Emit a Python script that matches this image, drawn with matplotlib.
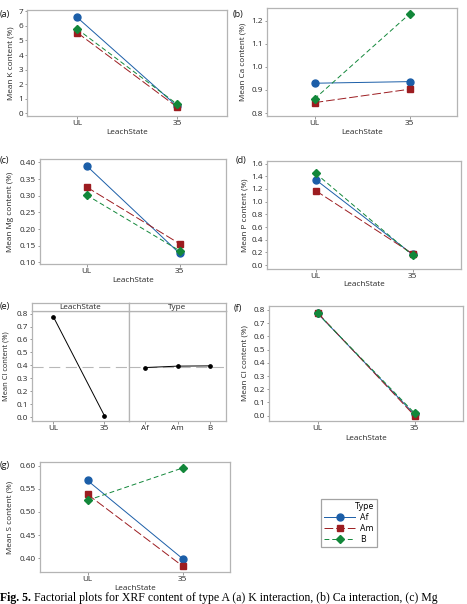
import numpy as np
import matplotlib
matplotlib.use("Agg")
import matplotlib.pyplot as plt
from matplotlib.lines import Line2D

# ================================================================================
# data
levels = ["UL", "35"]
types = ["Af", "Am", "B"]

k_af = [6.60, 0.48]
k_am = [5.55, 0.42]
k_b = [5.80, 0.62]

ca_af = [0.929, 0.936]
ca_am = [0.845, 0.903]
ca_b = [0.861, 1.229]

mg_af = [0.390, 0.127]
mg_am = [0.326, 0.156]
mg_b = [0.302, 0.135]

p_af = [1.348, 0.17]
p_am = [1.175, 0.18]
p_b = [1.448, 0.157]

cl_leach_main = [0.774, 0.010]
cl_type_main = [0.383, 0.394, 0.396]
cl_grand_mean = 0.391

cl_af = [0.775, 0.010]
cl_am = [0.780, 0.000]
cl_b = [0.775, 0.020]

s_af = [0.568, 0.399]
s_am = [0.538, 0.383]
s_b = [0.525, 0.595]

# ================================================================================
W, H = 467, 604
plt.rcParams["font.family"] = ["Open Sans", "DejaVu Sans"]
FS = 5.9
TXT = "#262626"
SPINE = "#b4b4b4"

c_af, c_am, c_b = "#1b5ea8", "#9c1c20", "#12873a"
sty = {
    "Af": dict(color=c_af, ls="-", marker="o", ms=5.0, lw=0.7),
    "Am": dict(color=c_am, ls=(0, (9, 3)), marker="s", ms=4.4, lw=0.7),
    "B": dict(color=c_b, ls=(0, (5, 3)), marker="D", ms=4.2, lw=0.7),
}

fig = plt.figure(figsize=(W / 100, H / 100), dpi=100)


def rect(x0, y0, x1, y1):
    return [x0 / W, 1 - y1 / H, (x1 - x0) / W, (y1 - y0) / H]


def style_ax(ax, yt, fmt):
    for s in ax.spines.values():
        s.set_color(SPINE)
        s.set_linewidth(0.9)
    ax.tick_params(length=1.8, width=0.6, color="#888888", labelsize=FS,
                   labelcolor=TXT, pad=1.0)
    ax.set_yticks(yt)
    ax.set_yticklabels([fmt.format(v) for v in yt])


def label_at(ax, box, ylab_x, xlab_y, ylabel, xlabel="LeachState"):
    x0, y0, x1, y1 = box
    ax.set_ylabel(ylabel, fontsize=FS, color=TXT, va="center")
    ax.yaxis.set_label_coords((ylab_x - x0) / (x1 - x0), 0.5)
    if xlabel:
        ax.set_xlabel(xlabel, fontsize=FS, color=TXT, va="center")
        ax.xaxis.set_label_coords(0.5, (y1 - xlab_y) / (y1 - y0))


def interaction(box, series, ylim, yt, fmt, ylabel, ylab_x, xlab_y):
    ax = fig.add_axes(rect(*box))
    x = np.arange(len(levels))
    for name, vals in zip(types, series):
        ax.plot(x, vals, **sty[name])
    ax.set_xlim(-0.5, 1.5)
    ax.set_ylim(*ylim)
    ax.set_xticks(x)
    ax.set_xticklabels(levels)
    style_ax(ax, yt, fmt)
    label_at(ax, box, ylab_x, xlab_y, ylabel)
    return ax


# (a) K
interaction((27, 10, 227, 116), [k_af, k_am, k_b], (-0.2, 7.1),
            range(0, 8), "{:d}", "Mean K content (%)", 11, 132)
# (b) Ca
interaction((267, 8, 457, 116), [ca_af, ca_am, ca_b], (0.787, 1.255),
            [0.8, 0.9, 1.0, 1.1, 1.2], "{:.1f}", "Mean Ca content (%)", 243, 132)
# (c) Mg
interaction((40, 159, 226, 264), [mg_af, mg_am, mg_b], (0.095, 0.41),
            [0.10, 0.15, 0.20, 0.25, 0.30, 0.35, 0.40], "{:.2f}",
            "Mean Mg content (%)", 11, 280)
# (d) P
interaction((267, 161, 461, 269), [p_af, p_am, p_b], (-0.06, 1.64),
            np.arange(0, 1.61, 0.2), "{:.1f}", "Mean P content (%)", 245, 284)
# (f) Cl interaction
interaction((269, 306, 463, 421), [cl_af, cl_am, cl_b], (-0.04, 0.83),
            np.arange(0, 0.81, 0.1), "{:.1f}", "Mean Cl content (%)", 245, 439)
# (g) S
ax_g = interaction((40, 462, 230, 572), [s_af, s_am, s_b], (0.37, 0.608),
                   [0.40, 0.45, 0.50, 0.55, 0.60], "{:.2f}",
                   "Mean S content (%)", 10, 588)

# (e) main effects plot for Cl
cl_ylim = (-0.03, 0.82)
cl_yt = np.arange(0, 0.81, 0.1)
box_e1 = (32, 311, 129, 421)
box_e2 = (129, 311, 226, 421)
e1 = fig.add_axes(rect(*box_e1))
e2 = fig.add_axes(rect(*box_e2), sharey=e1)
e1.plot(np.arange(2), cl_leach_main, color="black", lw=0.7, marker="o", ms=2.4)
e2.plot(np.arange(3), cl_type_main, color="black", lw=0.7, marker="o", ms=2.4)
for ax in (e1, e2):
    ax.axhline(cl_grand_mean, color="#b8b8b8", lw=0.8, ls=(0, (10, 5)), zorder=0)
    ax.set_ylim(*cl_ylim)
style_ax(e1, cl_yt, "{:.1f}")
style_ax(e2, cl_yt, "{:.1f}")
e1.set_xlim(-0.42, 1.48)
e1.set_xticks(range(2))
e1.set_xticklabels(levels)
e2.set_xlim(-0.5, 2.5)
e2.set_xticks(range(3))
e2.set_xticklabels(types)
e2.tick_params(axis="y", left=False, labelleft=False)
e1.set_ylabel("Mean Cl content (%)", fontsize=FS - 0.5, color=TXT, va="center")
e1.yaxis.set_label_coords((6 - 32) / 97, 0.5)
for box, name in [((32, 303, 129, 311), "LeachState"), ((129, 303, 226, 311), "Type")]:
    hx = fig.add_axes(rect(*box))
    hx.set_xticks([])
    hx.set_yticks([])
    for s in hx.spines.values():
        s.set_color(SPINE)
        s.set_linewidth(0.9)
    hx.text(0.5, 0.45, name, ha="center", va="center", fontsize=FS, color=TXT,
            transform=hx.transAxes)

# panel letters
for lab, x, y in [("(a)", 0, 14), ("(b)", 233, 14), ("(c)", 0, 161), ("(d)", 236, 161),
                  ("(e)", 0, 306), ("(f)", 234, 308), ("(g)", 0, 465)]:
    fig.text(x / W, 1 - y / H, lab, fontsize=FS + 0.6, color="#111111",
             ha="left", va="center")

# legend
handles = [Line2D([0], [0], **sty[t]) for t in types]
leg = fig.legend(handles, types, title="Type", loc="upper left",
                 bbox_to_anchor=(317 / W, 1 - 495 / H), fontsize=FS + 0.3,
                 title_fontsize=FS + 0.3, frameon=True, fancybox=False,
                 edgecolor="#8c8c8c", handlelength=3.6, borderpad=0.35,
                 labelspacing=0.22, handletextpad=0.6, alignment="right")
leg.get_frame().set_linewidth(0.9)

# caption
renderer = fig.canvas.get_renderer()
cap_y = 1 - 601 / H
t1 = fig.text(0.5 / W, cap_y, "Fig. 5.", fontsize=8.5, fontweight="bold",
              family="Liberation Serif", va="baseline", ha="left")
bb = t1.get_window_extent(renderer)
fig.text((bb.x1 + 2.5) / W, cap_y,
         "Factorial plots for XRF content of type A (a) K interaction, (b) Ca interaction, (c) Mg",
         fontsize=8.5, family="Liberation Serif", va="baseline", ha="left")

fig.savefig("out.png", dpi=100)
